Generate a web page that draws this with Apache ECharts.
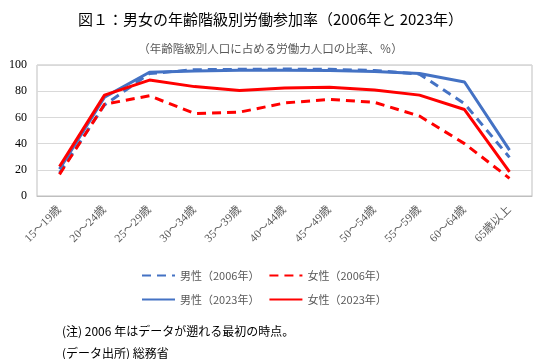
<!DOCTYPE html>
<html><head><meta charset="utf-8">
<script src="https://cdn.jsdelivr.net/npm/echarts@6/dist/echarts.min.js"></script>
<style>html,body{margin:0;padding:0;background:#fff;}#c{width:541px;height:359px;}</style>
</head><body><div id="c"></div>
<script>
const categories = ['15～19歳','20～24歳','25～29歳','30～34歳','35～39歳','40～44歳','45～49歳','50～54歳','55～59歳','60～64歳','65歳以上'];
const male2006 = [17.5, 69.5, 93.5, 96.4, 96.7, 96.9, 96.7, 95.8, 93.0, 70.5, 29.5];
const female2006 = [16.5, 70.0, 76.5, 63.0, 64.0, 71.0, 73.8, 71.5, 61.0, 40.0, 13.5];
const male2023 = [20.5, 75.5, 94.5, 95.5, 96.0, 96.0, 95.8, 95.0, 93.5, 87.0, 35.0];
const female2023 = [22.5, 77.0, 88.5, 83.5, 80.5, 82.5, 83.0, 81.0, 77.0, 66.0, 18.5];
const yTicks = [0, 20, 40, 60, 80, 100];
const seriesNames = ['男性（2006年）','女性（2006年）','男性（2023年）','女性（2023年）'];

const BLUE = '#4472C4', RED = '#FF0000';
const serif = '"Liberation Serif", "Noto Sans CJK JP", serif';
const cjk = '"Noto Sans CJK JP", sans-serif';
const chart = echarts.init(document.getElementById('c'), null, {renderer:'canvas'});
function mk(name, data, color, dashed){
  return {name, type:'line', data, symbol:'none', showSymbol:false, smooth:false,
    lineStyle:{color, width:3, type: dashed ? [9,6] : 'solid'},
    itemStyle:{color}};
}
const legendCommon = {left:136, itemWidth:33, itemHeight:3, itemGap:9,
  itemStyle:{opacity:0},
  textStyle:{fontFamily:cjk, fontSize:11, color:'#595959'}};
chart.setOption({
  animation:false,
  title:[
    {text:'図１：男女の年齢階級別労働参加率（2006年と 2023年）', left:'center', top:7,
     textStyle:{fontFamily:cjk, fontSize:15, fontWeight:'normal', color:'#000'}},
    {text:'（年齢階級別人口に占める労働力人口の比率、％）', left:'center', top:38,
     textStyle:{fontFamily:cjk, fontSize:11.5, fontWeight:'normal', color:'#595959'}},
    {text:'(注) 2006 年はデータが遡れる最初の時点。', left:57, top:320,
     textStyle:{fontFamily:cjk, fontSize:12, fontWeight:'normal', color:'#000'}},
    {text:'(データ出所) 総務省', left:57, top:342,
     textStyle:{fontFamily:cjk, fontSize:12, fontWeight:'normal', color:'#000'}}
  ],
  legend:[
    Object.assign({data:[seriesNames[0], seriesNames[1]], top:265}, legendCommon),
    Object.assign({data:[seriesNames[2], seriesNames[3]], top:289}, legendCommon)
  ],
  grid:{left:37, right:9, top:65, bottom:163, show:true, borderColor:'#bfbfbf', borderWidth:1},
  xAxis:{type:'category', data:categories, boundaryGap:true,
    axisLine:{lineStyle:{color:'#bfbfbf'}}, axisTick:{show:false},
    axisLabel:{rotate:45, interval:0, fontFamily:serif, fontSize:11.5, color:'#595959', margin:12}},
  yAxis:{type:'value', min:yTicks[0], max:yTicks[yTicks.length-1], interval:20,
    axisLine:{show:false}, axisTick:{show:false},
    splitLine:{lineStyle:{color:'#d9d9d9'}},
    axisLabel:{fontFamily:serif, fontSize:12, color:'#000', margin:10}},
  series:[
    mk(seriesNames[0], male2006, BLUE, true),
    mk(seriesNames[1], female2006, RED, true),
    mk(seriesNames[2], male2023, BLUE, false),
    mk(seriesNames[3], female2023, RED, false)
  ]
});
</script></body></html>
